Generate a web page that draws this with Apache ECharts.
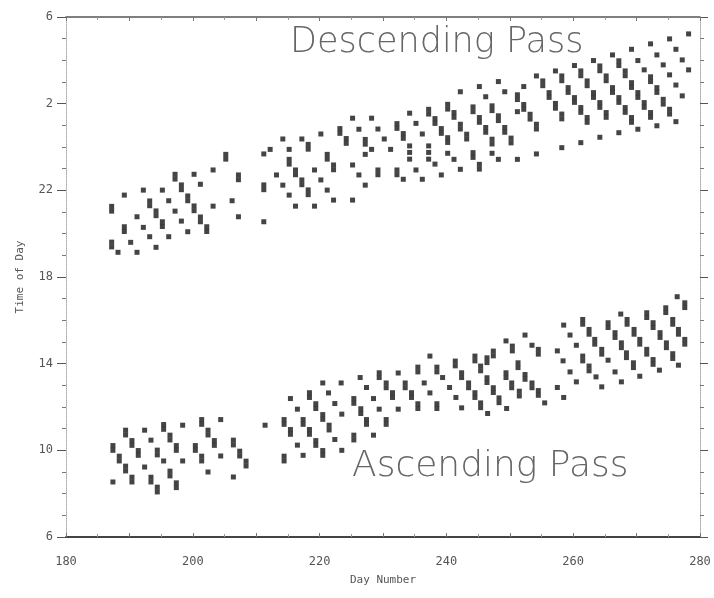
<!DOCTYPE html>
<html>
<head>
<meta charset="utf-8">
<script src="https://cdn.jsdelivr.net/npm/echarts@6/dist/echarts.min.js"></script>
<style>
html, body { margin: 0; padding: 0; background: #fff; }
#chart { width: 714px; height: 598px; }
</style>
</head>
<body>
<div id="chart"></div>
<script>
// tick labels
var dayTicks = [180, 200, 220, 240, 260, 280]
var hourTicks = [6, 10, 14, 18, 22, 26, 30] // 26 -> 2 am, 30 -> 6 am next day

// descending passes, [day, hour]  (hour > 24 = after midnight)
var descendingEarly = [
    [187.2,21.04],[187.2,21.26],[187.2,19.39],[187.2,19.61],
    [188.2,19.14],
    [189.2,21.78],[189.2,20.10],[189.2,20.32],
    [190.2,19.60],
    [191.2,20.78],[191.2,19.14],
    [192.2,22.01],[192.2,20.29],
    [193.2,21.29],[193.2,21.51],[193.2,19.86],
    [194.2,20.83],[194.2,21.05],[194.2,19.37],
    [195.2,22.01],[195.2,20.33],[195.2,20.55],
    [196.2,21.52],[196.2,19.86],
    [197.2,22.52],[197.2,22.74],[197.2,21.04],
    [198.2,22.03],[198.2,22.25],[198.2,20.58],
    [199.2,21.52],[199.2,21.74],[199.2,20.09],
    [200.2,22.74],[200.2,21.06],[200.2,21.28],
    [201.2,22.28],[201.2,20.55],[201.2,20.77],
    [202.2,20.10],[202.2,20.32],
    [203.2,22.94],[203.2,21.27],
    [205.2,23.44],[205.2,23.66],
    [206.2,21.52],
    [207.2,22.49],[207.2,22.71],[207.2,20.78],
    [211.2,23.68],[211.2,22.03],[211.2,22.25],[211.2,20.55],
    [212.2,23.89],
    [213.2,22.71],
    [214.2,24.37],[214.2,22.24],
    [215.2,23.89],[215.2,23.21],[215.2,23.43],[215.2,21.78],
    [216.2,22.72],[216.2,22.94],[216.2,21.27],
    [217.2,24.37],[217.2,22.26],[217.2,22.48],
    [218.2,23.90],[218.2,24.12],[218.2,21.80],[218.2,22.02],
    [219.2,22.94],[219.2,21.27],
    [220.2,24.60],[220.2,22.48],
    [221.2,23.44],[221.2,23.66],[221.2,22.01],
    [222.2,22.95],[222.2,23.17],[222.2,21.55],
    [223.2,24.63],[223.2,24.85],
    [224.2,24.17],[224.2,24.39],
    [225.2,25.33],[225.2,23.17],[225.2,21.55],
    [226.2,24.82],[226.2,22.71],
    [227.2,24.13],[227.2,24.35],[227.2,23.66],[227.2,22.24],
    [228.2,25.33],[228.2,23.89],
    [229.2,24.83],[229.2,22.72],[229.2,22.94],
    [230.2,24.37],
    [231.2,23.89],
    [232.2,24.86],[232.2,25.08],[232.2,22.72],[232.2,22.94],
    [233.2,24.40],[233.2,24.62],[233.2,22.51],
    [234.2,25.56],[234.2,24.05],[234.2,23.75],[234.2,23.44],
    [235.2,25.09],[235.2,22.94],
    [236.2,24.60],[236.2,22.51],
    [237.2,25.52],[237.2,25.74],[237.2,24.05],[237.2,23.75],[237.2,23.44],
    [238.2,25.09],[238.2,25.31],[238.2,23.21],
    [239.2,24.63],[239.2,24.85],[239.2,22.71]
]

var descendingLate = [
    [240.2,25.75],[240.2,25.97],[240.2,24.21],[240.2,24.43],[240.2,23.71],
    [241.2,23.43],[241.2,25.37],[241.2,25.59],
    [242.2,22.97],[242.2,24.83],[242.2,25.05],[242.2,26.55],
    [243.2,24.37],[243.2,24.59],
    [244.2,23.52],[244.2,23.74],[244.2,25.63],[244.2,25.85],
    [245.2,22.98],[245.2,23.20],[245.2,25.14],[245.2,25.36],[245.2,26.79],
    [246.2,24.68],[246.2,24.90],[246.2,26.32],
    [247.2,23.71],[247.2,24.14],[247.2,24.36],[247.2,25.68],[247.2,25.90],
    [248.2,23.43],[248.2,25.22],[248.2,25.44],[248.2,27.02],
    [249.2,24.68],[249.2,24.90],[249.2,26.55],
    [250.2,24.19],[250.2,24.41],
    [251.2,23.43],[251.2,25.63],[251.2,26.19],[251.2,26.41],
    [252.2,25.74],[252.2,25.96],[252.2,26.79],
    [253.2,25.29],[253.2,25.51],
    [254.2,23.68],[254.2,24.83],[254.2,25.05],[254.2,27.28],
    [255.2,26.83],[255.2,27.05],
    [256.2,26.29],[256.2,26.51],
    [257.2,25.79],[257.2,26.01],[257.2,27.51],
    [258.2,23.97],[258.2,25.30],[258.2,25.52],[258.2,27.06],[258.2,27.28],
    [259.2,26.52],[259.2,26.74],
    [260.2,26.06],[260.2,26.28],[260.2,27.76],
    [261.2,24.20],[261.2,25.60],[261.2,25.82],[261.2,27.29],[261.2,27.51],
    [262.2,25.14],[262.2,25.36],[262.2,26.83],[262.2,27.05],
    [263.2,26.29],[263.2,26.51],[263.2,27.99],
    [264.2,24.45],[264.2,25.83],[264.2,26.05],[264.2,27.52],[264.2,27.74],
    [265.2,25.37],[265.2,25.59],[265.2,27.06],[265.2,27.28],
    [266.2,26.52],[266.2,26.74],[266.2,28.25],
    [267.2,24.66],[267.2,26.06],[267.2,26.28],[267.2,27.76],[267.2,27.98],
    [268.2,25.60],[268.2,25.82],[268.2,27.29],[268.2,27.51],
    [269.2,25.14],[269.2,25.36],[269.2,26.75],[269.2,26.97],[269.2,28.51],
    [270.2,24.82],[270.2,26.29],[270.2,26.51],[270.2,27.99],
    [271.2,25.83],[271.2,26.05],[271.2,27.56],
    [272.2,25.37],[272.2,25.59],[272.2,27.02],[272.2,27.24],[272.2,28.76],
    [273.2,24.98],[273.2,26.52],[273.2,26.74],[273.2,28.25],
    [274.2,25.98],[274.2,26.20],[274.2,27.79],
    [275.2,25.52],[275.2,25.74],[275.2,27.33],[275.2,28.99],
    [276.2,25.17],[276.2,26.86],[276.2,28.51],
    [277.2,26.36],[277.2,28.02],
    [278.2,27.56],[278.2,29.22]
]

// ascending passes, [day, hour]
var ascendingEarly = [
    [187.4,10.00],[187.4,10.22],[187.4,8.54],
    [188.4,9.51],[188.4,9.73],
    [189.4,10.71],[189.4,10.93],[189.4,9.05],[189.4,9.27],
    [190.4,10.23],[190.4,10.45],[190.4,8.54],[190.4,8.76],
    [191.4,9.77],[191.4,9.99],
    [192.4,10.93],[192.4,9.23],
    [193.4,10.47],[193.4,8.54],[193.4,8.76],
    [194.4,9.79],[194.4,10.01],[194.4,8.08],[194.4,8.30],
    [195.4,10.97],[195.4,11.19],[195.4,9.51],
    [196.4,10.48],[196.4,10.70],[196.4,8.82],[196.4,9.04],
    [197.4,10.00],[197.4,10.22],[197.4,8.28],[197.4,8.50],
    [198.4,11.16],[198.4,9.51],
    [200.4,10.00],[200.4,10.22],
    [201.4,11.20],[201.4,11.42],[201.4,9.51],[201.4,9.73],
    [202.4,10.71],[202.4,10.93],[202.4,9.00],
    [203.4,10.23],[203.4,10.45],
    [204.4,11.42],[204.4,9.74],
    [206.4,10.25],[206.4,10.47],[206.4,8.77],
    [207.4,9.74],[207.4,9.96],
    [208.4,9.28],[208.4,9.50],
    [211.4,11.16],
    [214.4,11.20],[214.4,11.42],[214.4,9.51],[214.4,9.73],
    [215.4,12.39],[215.4,10.74],[215.4,10.96],
    [216.5,11.90],[216.5,10.24],
    [217.4,11.20],[217.4,11.42],[217.4,9.77],
    [218.4,12.44],[218.4,12.66],[218.4,10.74],[218.4,10.96],
    [219.4,11.93],[219.4,12.15],[219.4,10.23],[219.4,10.45],
    [220.5,13.11],[220.5,11.43],[220.5,11.65],[220.5,9.77],[220.5,9.99],
    [221.4,12.65],[221.5,10.94],[221.5,11.16],
    [222.4,12.16],[222.4,10.50],
    [223.4,13.11],[223.5,11.67],[223.5,10.00],
    [225.4,12.17],[225.4,12.39],[225.4,10.48],[225.4,10.70],
    [226.4,13.36],[226.5,11.70],[226.5,11.92],
    [227.4,12.90],[227.4,11.20],[227.4,11.42],
    [228.5,12.39],[228.5,10.70],
    [229.4,13.36],[229.4,13.58],[229.4,11.90],
    [230.5,12.89],[230.5,13.11],[230.5,11.20],[230.5,11.42],
    [231.5,12.44],[231.5,12.66],
    [232.4,13.57],[232.4,11.90],
    [233.5,12.89],[233.5,13.11],
    [234.5,12.44],[234.5,12.66],
    [235.5,13.62],[235.5,13.84],[235.5,11.93],[235.5,12.15],
    [236.5,13.11],
    [237.4,14.35],[237.4,12.65],
    [238.5,13.62],[238.5,13.84],[238.5,11.93],[238.5,12.15],
    [239.4,13.36],
    [240.5,12.90]
]

var ascendingLate = [
    [241.4,13.90],[241.4,14.12],[241.5,12.44],
    [242.4,13.36],[242.4,13.58],[242.4,11.96],
    [243.5,12.89],[243.5,13.11],
    [244.5,14.13],[244.5,14.35],[244.5,12.44],[244.5,12.66],
    [245.4,13.67],[245.4,13.89],[245.4,11.97],[245.4,12.19],
    [246.4,14.05],[246.4,14.27],[246.4,13.13],[246.4,13.35],[246.5,11.70],
    [247.4,14.36],[247.4,14.58],[247.4,12.67],[247.4,12.89],
    [248.3,12.20],[248.3,12.42],
    [249.4,15.05],[249.4,13.36],[249.4,13.58],[249.5,11.93],
    [250.4,14.59],[250.4,14.81],[250.3,12.89],[250.3,13.11],
    [251.3,13.82],[251.3,14.04],[251.5,12.51],[251.5,12.73],
    [252.4,15.32],[252.4,13.28],[252.4,13.50],
    [253.5,14.85],[253.5,12.89],[253.5,13.11],
    [254.5,14.44],[254.5,14.66],[254.5,12.54],[254.5,12.76],
    [255.5,12.19],
    [257.5,14.59],[257.5,12.90],
    [258.5,15.78],[258.4,14.13],[258.5,12.44],
    [259.5,15.32],[259.5,13.62],
    [260.5,14.85],[260.5,13.16],
    [261.5,15.82],[261.5,16.04],[261.5,14.13],[261.5,14.35],
    [262.5,15.36],[262.5,15.58],[262.5,13.67],[262.5,13.89],
    [263.4,14.90],[263.4,15.12],[263.6,13.39],
    [264.5,14.44],[264.5,14.66],[264.5,12.93],
    [265.5,15.67],[265.5,15.89],[265.5,14.16],
    [266.6,15.21],[266.6,15.43],[266.6,13.62],
    [267.5,16.29],[267.6,14.74],[267.6,14.96],[267.6,13.16],
    [268.5,15.82],[268.5,16.04],[268.4,14.28],[268.4,14.50],
    [269.6,15.36],[269.6,15.58],[269.5,13.82],[269.5,14.04],
    [270.5,14.90],[270.5,15.12],[270.5,13.42],
    [271.6,16.13],[271.6,16.35],[271.6,14.44],[271.6,14.66],
    [272.6,15.67],[272.6,15.89],[272.6,13.97],[272.6,14.19],
    [273.7,15.21],[273.7,15.43],[273.6,13.70],
    [274.6,16.36],[274.6,16.58],[274.7,14.74],[274.7,14.96],
    [275.7,15.82],[275.7,16.04],[275.7,14.24],[275.7,14.46],
    [276.4,17.09],[276.6,15.36],[276.6,15.58],[276.6,13.93],
    [277.6,16.59],[277.6,16.81],[277.6,14.90],[277.6,15.12]
]

var FONT = '"DejaVu Sans Mono", monospace'
var INK = '#151515'

var chart = echarts.init(document.getElementById('chart'))

function hourLabel(v) {
    if (hourTicks.indexOf(v) < 0) return ''
    return String(v % 24)
}
function dayLabel(v) {
    return dayTicks.indexOf(v) >= 0 ? String(v) : ''
}

function passSeries(name, data) {
    return {
        name: name,
        type: 'scatter',
        data: data,
        symbol: 'rect',
        symbolSize: 5,
        itemStyle: { color: INK },
        animation: false
    }
}

var option = {
    backgroundColor: '#fff',
    animation: false,
    grid: { left: 66, right: 14, top: 17, bottom: 61 },
    xAxis: [
        {
            type: 'value', min: 180, max: 280, interval: 10,
            name: 'Day Number', nameLocation: 'middle', nameGap: 38,
            nameTextStyle: { fontFamily: FONT, fontSize: 11, color: '#555' },
            axisLine: { lineStyle: { color: '#444', width: 2 } },
            axisTick: { inside: true, length: 4, lineStyle: { color: '#777' } },
            minorTick: { show: true, splitNumber: 2, length: 3, lineStyle: { color: '#999' } },
            axisLabel: { formatter: dayLabel, margin: 19, fontFamily: FONT, fontSize: 12, color: '#555' },
            splitLine: { show: false }
        },
        {
            type: 'value', min: 180, max: 280, interval: 10, position: 'top',
            axisLine: { lineStyle: { color: '#555', width: 1.5 } },
            axisTick: { inside: true, length: 4, lineStyle: { color: '#777' } },
            minorTick: { show: true, splitNumber: 2, length: 3, lineStyle: { color: '#999' } },
            axisLabel: { show: false },
            splitLine: { show: false }
        }
    ],
    yAxis: [
        {
            type: 'value', min: 6, max: 30, interval: 4,
            name: 'Time of Day', nameLocation: 'middle', nameGap: 40,
            nameTextStyle: { fontFamily: FONT, fontSize: 11, color: '#555' },
            axisLine: { show: true, lineStyle: { color: '#aaa', type: 'dotted' } },
            axisTick: { show: true, length: 9, lineStyle: { color: '#555' } },
            minorTick: { show: true, splitNumber: 4, length: 4, lineStyle: { color: '#777' } },
            axisLabel: { formatter: hourLabel, margin: 13, fontFamily: FONT, fontSize: 12, color: '#555' },
            splitLine: { show: false }
        },
        {
            type: 'value', min: 6, max: 30, interval: 4, position: 'right',
            axisLine: { show: true, lineStyle: { color: '#aaa', type: 'dotted' } },
            axisTick: { show: true, length: 8, lineStyle: { color: '#555' } },
            minorTick: { show: true, splitNumber: 4, length: 4, lineStyle: { color: '#777' } },
            axisLabel: { show: false },
            splitLine: { show: false }
        }
    ],
    graphic: [
        {
            type: 'text', left: 290, top: 25, silent: true,
            style: { text: 'Descending Pass', font: '200 35px "DejaVu Sans"', fill: '#666' }
        },
        {
            type: 'text', left: 352, top: 449, silent: true,
            style: { text: 'Ascending Pass', font: '200 36px "DejaVu Sans"', fill: '#666' }
        }
    ],
    series: [
        passSeries('Descending early', descendingEarly),
        passSeries('Descending late', descendingLate),
        passSeries('Ascending early', ascendingEarly),
        passSeries('Ascending late', ascendingLate)
    ]
}

chart.setOption(option)
</script>
</body>
</html>
